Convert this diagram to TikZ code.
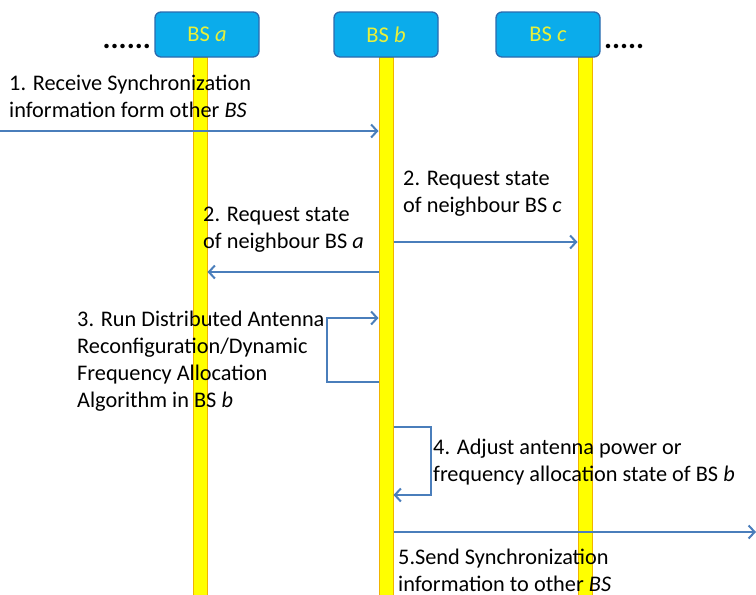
\documentclass[tikz,border=0pt]{standalone}
\usepackage{fontspec}
\setmainfont{Carlito}
\usetikzlibrary{arrows.meta,calc}
\definecolor{boxfill}{HTML}{0BACEB}
\definecolor{boxline}{HTML}{2A6AAE}
\definecolor{lbl}{HTML}{E8F03A}
\definecolor{arr}{HTML}{4A7EBB}
\definecolor{baryel}{HTML}{FFFF00}
\definecolor{barline}{HTML}{F0B400}
\tikzset{
  bsbox/.style={draw=boxline, line width=1.3pt, fill=boxfill, rounded corners=6pt,
    minimum width=104pt, minimum height=45pt, inner sep=0pt, text=lbl,
    font=\fontsize{22.5}{26}\selectfont},
  lifeline/.style={draw=barline, line width=1pt, fill=baryel, minimum width=14pt,
    minimum height=538pt, inner sep=0pt},
  msg/.style={draw=arr, line width=2pt, -{Straight Barb[length=6pt,width=13pt]}},
  steptext/.style={anchor=north west, align=left, inner sep=0pt,
    font=\fontsize{22.3}{27}\selectfont},
  dots/.style={inner sep=0pt, font=\fontsize{30}{30}\selectfont\bfseries}
}
\begin{document}
\begin{tikzpicture}[x=1pt,y=-1pt]
\useasboundingbox (0,0) rectangle (756,595);
% lifelines
\node[lifeline] (la) at (200,326) {};
\node[lifeline] (lb) at (386,326) {};
\node[lifeline] (lc) at (585,326) {};
% base station boxes
\node[bsbox] (ba) at (207,34.5) {BS \textit{a}};
\node[bsbox] (bb) at (386,34.5) {BS \textit{b}};
\node[bsbox] (bc) at (548,34.5) {BS \textit{c}};
\node[dots, anchor=base east] (dl) at (151,48) {......};
\node[dots, anchor=base west] (dr) at (604,48) {.....};
% coordinates for message rows
\coordinate (y1) at (0,131);
\coordinate (y2c) at (0,242);
\coordinate (y2a) at (0,272);
\coordinate (y3t) at (0,318);
\coordinate (y3b) at (0,382);
\coordinate (y4t) at (0,427);
\coordinate (y4b) at (0,495);
\coordinate (y5) at (0,532);
\coordinate (x3) at (327,0);
\coordinate (x4) at (431,0);
\coordinate (e5) at (756,532);
% messages
\draw[msg] (y1) -- (lb.west |- y1);
\draw[msg] (lb.east |- y2c) -- (lc.west |- y2c);
\draw[msg] (lb.west |- y2a) -- (la.east |- y2a);
\draw[msg] (lb.west |- y3b) -- (x3 |- y3b) -- (x3 |- y3t) -- (lb.west |- y3t);
\draw[msg] (lb.east |- y4t) -- (x4 |- y4t) -- (x4 |- y4b) -- (lb.east |- y4b);
\draw[msg] (lb.east |- y5) -- (e5);
% texts
\node[steptext] (t1) at (9,75) {1. Receive Synchronization\\information form other \textit{BS}};
\node[steptext] (t2c) at (403,171) {2. Request state\\of neighbour BS \textit{c}};
\node[steptext] (t2a) at (203,207) {2. Request state\\of neighbour BS \textit{a}};
\node[steptext] (t3) at (77,311) {3. Run Distributed Antenna\\Reconfiguration/Dynamic\\Frequency Allocation\\Algorithm in BS \textit{b}};
\node[steptext] (t4) at (433,439) {4. Adjust antenna power or\\frequency allocation state of BS \textit{b}};
\node[steptext] (t5) at (398,549) {5.Send Synchronization\\information to other \textit{BS}};
\end{tikzpicture}
\end{document}
